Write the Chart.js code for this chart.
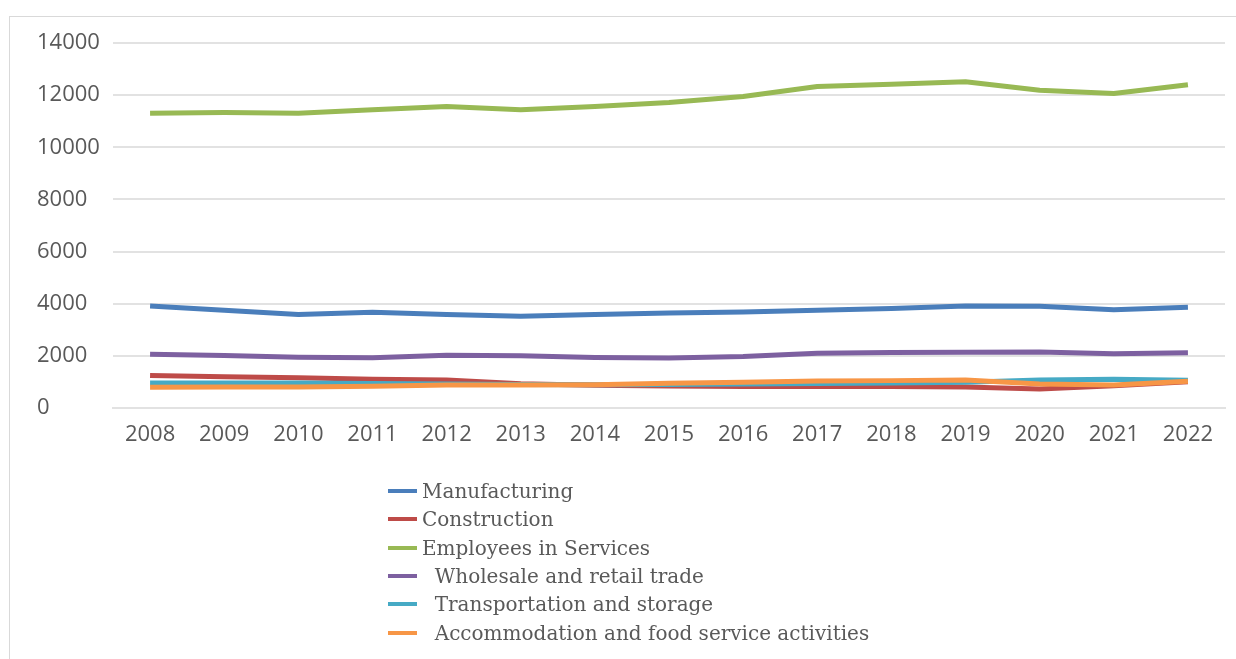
<!DOCTYPE html>
<html>
<head>
<meta charset="utf-8">
<title>Employment by sector 2008-2022</title>
<script src="https://cdn.jsdelivr.net/npm/chart.js@4.4.1/dist/chart.umd.min.js"></script>
<style>
    html, body { margin: 0; padding: 0; background: #fff; }
    #wrap { position: relative; width: 1236px; height: 659px; overflow: hidden; }
    #frame { position: absolute; left: 9px; top: 16px; width: 1260px; height: 700px; border-top: 1px solid #d9d9d9; border-left: 1px solid #d9d9d9; }
    #sectorChart { position: absolute; left: 0; top: 0; }
    #legend { position: absolute; left: 388px; top: 477px; margin: 0; padding: 0; list-style: none; font-family: 'DejaVu Serif', serif; font-size: 20px; color: #595959; }
    #legend li { height: 28.3px; display: flex; align-items: center; white-space: pre; }
    #legend .swatch { width: 29px; height: 4px; margin-right: 5px; flex: none; }
</style>
</head>
<body>
<div id="wrap">
    <div id="frame"></div>
    <canvas id="sectorChart" width="1236" height="659"></canvas>
    <ul id="legend"></ul>
</div>
<script>
// --- Data (thousand employees) ---
const years = ['2008', '2009', '2010', '2011', '2012', '2013', '2014', '2015', '2016', '2017', '2018', '2019', '2020', '2021', '2022'];
const manufacturing = [3910, 3750, 3590, 3670, 3590, 3520, 3590, 3640, 3680, 3745, 3820, 3910, 3900, 3770, 3860];
const construction = [1250, 1200, 1160, 1100, 1070, 930, 870, 840, 820, 820, 820, 810, 730, 850, 1010];
const services = [11310, 11335, 11310, 11440, 11565, 11440, 11565, 11720, 11950, 12330, 12420, 12510, 12190, 12060, 12400];
const wholesale = [2060, 2010, 1950, 1925, 2025, 2000, 1935, 1920, 1975, 2100, 2130, 2140, 2150, 2080, 2115];
const transport = [960, 960, 955, 935, 920, 900, 890, 900, 920, 940, 960, 990, 1070, 1100, 1060];
const accommodation = [800, 805, 810, 830, 880, 880, 895, 945, 985, 1035, 1050, 1075, 920, 880, 1030];
const yTicks = [0, 2000, 4000, 6000, 8000, 10000, 12000, 14000];

const seriesLabels = ['Manufacturing', 'Construction', 'Employees in Services', '  Wholesale and retail trade', '  Transportation and storage', '  Accommodation and food service activities'];
const seriesData = [manufacturing, construction, services, wholesale, transport, accommodation];
const seriesColors = ['#4a7ebb', '#be4b48', '#98b954', '#7d60a0', '#46aac5', '#f79646'];

const tickFont = { family: "'Open Sans', sans-serif", size: 22 };
const tickColor = '#595959';
const gridColor = '#e2e2e2';

// later series are painted on top (orange last)
function buildDatasets() {
    return seriesLabels.map((label, i) => ({
        label: label,
        data: seriesData[i],
        borderColor: seriesColors[i],
        backgroundColor: seriesColors[i],
        borderWidth: 5,
        borderJoinStyle: 'round',
        pointRadius: 0,
        pointHoverRadius: 0,
        tension: 0,
        fill: false,
        order: seriesLabels.length - i
    }));
}

// --- Vertical legend under the plot ---
function renderLegend(chart) {
    const ul = document.getElementById('legend');
    ul.innerHTML = '';
    chart.data.datasets.forEach(ds => {
        const li = document.createElement('li');
        const sw = document.createElement('span');
        sw.className = 'swatch';
        sw.style.background = ds.borderColor;
        li.appendChild(sw);
        li.appendChild(document.createTextNode(ds.label));
        ul.appendChild(li);
    });
}

const ctx = document.getElementById('sectorChart').getContext('2d');
const sectorChart = new Chart(ctx, {
    type: 'line',
    data: { labels: years, datasets: buildDatasets() },
    options: {
        responsive: false,
        devicePixelRatio: 1,
        animation: false,
        layout: { padding: { top: 43, left: 37, right: 11, bottom: 211 } },
        plugins: {
            legend: { display: false },
            tooltip: { enabled: false }
        },
        scales: {
            x: {
                offset: true,
                grid: { display: false, drawTicks: false },
                border: { color: gridColor, width: 2 },
                ticks: { color: tickColor, font: tickFont, padding: 14, maxRotation: 0 },
                afterFit: scale => { scale.height = 40; }
            },
            y: {
                min: yTicks[0],
                max: yTicks[yTicks.length - 1],
                afterBuildTicks: scale => { scale.ticks = yTicks.map(v => ({ value: v })); },
                grid: { color: gridColor, lineWidth: 2, drawTicks: false },
                border: { display: false },
                ticks: { color: tickColor, font: tickFont, crossAlign: 'far', padding: 12, callback: v => String(v) },
                afterFit: scale => { scale.width = 76; }
            }
        }
    }
});

renderLegend(sectorChart);
</script>
</body>
</html>
